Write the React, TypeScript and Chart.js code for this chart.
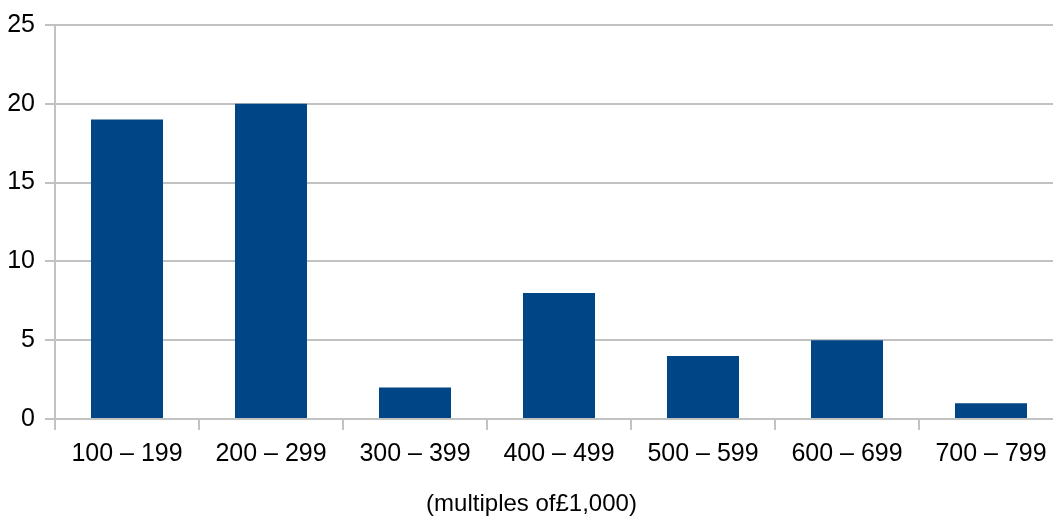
import React, { useEffect, useRef } from "react";
import { Chart, registerables } from "chart.js";

Chart.register(...registerables);

const categories = ["100 – 199", "200 – 299", "300 – 399", "400 – 499", "500 – 599", "600 – 699", "700 – 799"];
const counts = [19, 20, 2, 8, 4, 5, 1];
const yTicks = [0, 5, 10, 15, 20, 25];
const xTitle = "(multiples of£1,000)";

export default function App() {
  const ref = useRef<HTMLCanvasElement | null>(null);

  useEffect(() => {
    if (!ref.current) return;
    const font = { family: "'Liberation Sans', Arial, sans-serif", size: 25 };
    const gridColor = "#c2c2c2";
    const chart = new Chart(ref.current, {
      type: "bar",
      data: {
        labels: categories,
        datasets: [
          {
            data: counts,
            backgroundColor: "#004586",
            borderWidth: 0,
            barPercentage: 0.5,
            categoryPercentage: 1.0,
          },
        ],
      },
      options: {
        animation: false,
        responsive: false,
        devicePixelRatio: 1,
        layout: { padding: { top: 22, left: 0, right: 0, bottom: 0 } },
        plugins: {
          legend: { display: false },
          tooltip: { enabled: false },
          title: {
            display: true,
            position: "bottom",
            text: xTitle,
            color: "#000",
            font: { ...font, weight: "normal" as const, size: 24 },
            padding: { top: 0, bottom: 0 },
            fullSize: true,
          },
        },
        scales: {
          x: {
            offset: true,
            grid: {
              offset: true,
              drawOnChartArea: false,
              drawTicks: true,
              tickLength: 11,
              color: gridColor,
              lineWidth: 2,
            },
            border: { color: gridColor, width: 2 },
            ticks: { color: "#000", font, padding: 9, maxRotation: 0, autoSkip: false },
            afterFit: (scale: any) => {
              scale.height = 100 - 28.8;
            },
          },
          y: {
            min: 0,
            max: 25,
            afterBuildTicks: (scale: any) => {
              scale.ticks = yTicks.map((v) => ({ value: v }));
            },
            grid: {
              color: gridColor,
              lineWidth: 2,
              drawTicks: true,
              tickLength: 10,
            },
            border: { color: gridColor, width: 2 },
            ticks: { color: "#000", font, padding: 10 },
            afterFit: (scale: any) => {
              scale.width = 55;
            },
          },
        },
      },
    });
    return () => chart.destroy();
  }, []);

  return (
    <div style={{ position: "absolute", left: 0, top: 0, width: 1053, height: 519, overflow: "hidden", background: "#fff" }}>
      <canvas ref={ref} width={1063} height={519} style={{ display: "block" }} />
    </div>
  );
}
